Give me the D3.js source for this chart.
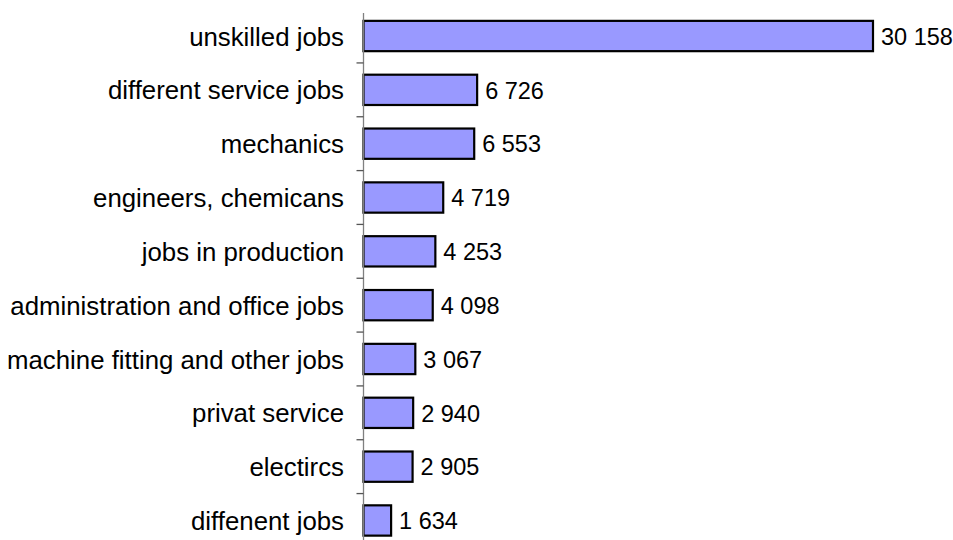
<!DOCTYPE html>
<html>
<head>
<meta charset="utf-8">
<script src="https://cdn.jsdelivr.net/npm/d3@7/dist/d3.min.js"></script>
<style>
html,body{margin:0;padding:0;background:#fff;}
svg{display:block;}
</style>
</head>
<body>
<svg id="chart" width="953" height="540"></svg>
<script>
const categories = [
  "unskilled jobs",
  "different service jobs",
  "mechanics",
  "engineers, chemicans",
  "jobs in production",
  "administration and office jobs",
  "machine fitting and other jobs",
  "privat service",
  "electircs",
  "diffenent jobs"
];
const values = [30158, 6726, 6553, 4719, 4253, 4098, 3067, 2940, 2905, 1634];

const svg = d3.select("#chart");
const x0 = 363.5;
const x = d3.scaleLinear().domain([0, 30158]).range([x0, 873]);
const y = d3.scaleBand().domain(categories).range([9.1, 547.4]).paddingInner(0.4).paddingOuter(0.2);

const fmt = v => d3.format(",")(v).replace(/,/g, " ");
const font = "'Liberation Sans', Arial, sans-serif";

// bars
svg.append("g").selectAll("rect").data(values).join("rect")
  .attr("x", x(0))
  .attr("y", (d, i) => y(categories[i]) + 1)
  .attr("width", d => x(d) - x(0))
  .attr("height", y.bandwidth() - 2)
  .attr("fill", "#9999ff")
  .attr("stroke", "#000")
  .attr("stroke-width", 2.2);

// axis line
svg.append("line")
  .attr("x1", x0).attr("x2", x0)
  .attr("y1", 13).attr("y2", 548)
  .attr("stroke", "#808080").attr("stroke-width", 1.3);

// ticks between categories
const step = y.step();
const boundaries = categories.slice(1).map(c => y(c) - (step - y.bandwidth()) / 2);
svg.append("g").selectAll("line").data(boundaries).join("line")
  .attr("x1", x0 - 7).attr("x2", x0)
  .attr("y1", d => d).attr("y2", d => d)
  .attr("stroke", "#555").attr("stroke-width", 1.3);

// category labels
svg.append("g").selectAll("text").data(categories).join("text")
  .attr("x", 344)
  .attr("y", d => y(d) + y.bandwidth() / 2)
  .attr("dy", "0.37em")
  .attr("text-anchor", "end")
  .attr("font-family", font)
  .attr("font-size", 25.8)
  .attr("fill", "#000")
  .text(d => d);

// value labels
svg.append("g").selectAll("text").data(values).join("text")
  .attr("x", d => x(d) + 8)
  .attr("y", (d, i) => y(categories[i]) + y.bandwidth() / 2)
  .attr("dy", "0.37em")
  .attr("font-family", font)
  .attr("font-size", 23.5)
  .attr("fill", "#000")
  .text(d => fmt(d));
</script>
</body>
</html>
